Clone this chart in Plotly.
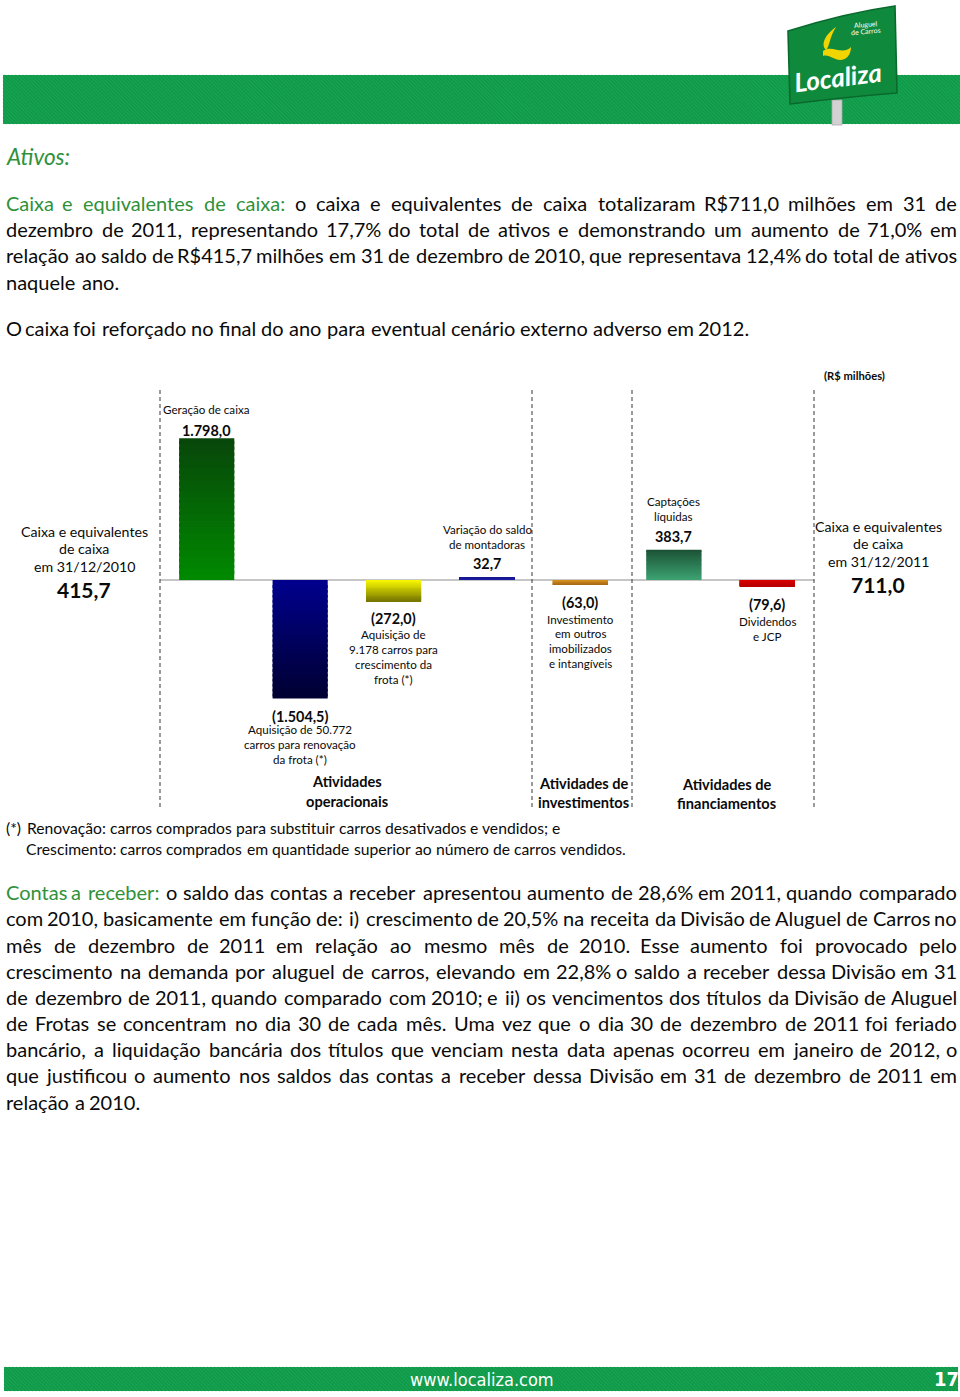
import unicodedata
import plotly.graph_objects as go

W_PX, H_PX = 960, 1397

# ---------------- data ----------------
CATEGORIES = ["Geração de caixa", "Renovação da frota", "Crescimento da frota",
              "Variação do saldo de montadoras", "Investimento em outros imobilizados e intangíveis",
              "Captações líquidas", "Dividendos e JCP"]
VALUES = [1798.0, -1504.5, -272.0, 32.7, -63.0, 383.7, -79.6]
VALUE_LABELS = ["1.798,0", "(1.504,5)", "(272,0)", "32,7", "(63,0)", "383,7", "(79,6)"]
BAR_DESCRIPTIONS = [
    ["Geração de caixa"],
    ["Aquisição de 50.772", "carros para renovação", "da frota (*)"],
    ["Aquisição de", "9.178 carros para", "crescimento da", "frota (*)"],
    ["Variação do saldo", "de montadoras"],
    ["Investimento", "em outros", "imobilizados", "e intangíveis"],
    ["Captações", "líquidas"],
    ["Dividendos", "e JCP"],
]
OPENING_LABEL = ["Caixa e equivalentes", "de caixa", "em 31/12/2010"]
OPENING_VALUE = "415,7"
CLOSING_LABEL = ["Caixa e equivalentes", "de caixa", "em 31/12/2011"]
CLOSING_VALUE = "711,0"
SECTION_LABELS = [["Atividades", "operacionais"], ["Atividades de", "investimentos"],
                  ["Atividades de", "financiamentos"]]
UNIT_LABEL = "(R$ milhões)"

HEADING = "Ativos:"
P1_LINES = [
    "Caixa e equivalentes de caixa: o caixa e equivalentes de caixa totalizaram R$711,0 milhões em 31 de",
    "dezembro de 2011, representando 17,7% do total de ativos e demonstrando um aumento de 71,0% em",
    "relação ao saldo de R$415,7 milhões em 31 de dezembro de 2010, que representava 12,4% do total de ativos",
    "naquele ano.",
]
P2_LINE = "O caixa foi reforçado no final do ano para eventual cenário externo adverso em 2012."
FOOTNOTE_LINES = [
    "(*) Renovação: carros comprados para substituir carros desativados e vendidos; e",
    "Crescimento: carros comprados em quantidade superior ao número de carros vendidos.",
]
P3_LINES = [
    "Contas a receber: o saldo das contas a receber apresentou aumento de 28,6% em 2011, quando comparado",
    "com 2010, basicamente em função de: i) crescimento de 20,5% na receita da Divisão de Aluguel de Carros no",
    "mês de dezembro de 2011 em relação ao mesmo mês de 2010. Esse aumento foi provocado pelo",
    "crescimento na demanda por aluguel de carros, elevando em 22,8% o saldo a receber dessa Divisão em 31",
    "de dezembro de 2011, quando comparado com 2010; e ii) os vencimentos dos títulos da Divisão de Aluguel",
    "de Frotas se concentram no dia 30 de cada mês. Uma vez que o dia 30 de dezembro de 2011 foi feriado",
    "bancário, a liquidação bancária dos títulos que venciam nesta data apenas ocorreu em janeiro de 2012, o",
    "que justificou o aumento nos saldos das contas a receber dessa Divisão em 31 de dezembro de 2011 em",
    "relação a 2010.",
]
FOOTER_URL = "www.localiza.com"
PAGE_NUMBER = "17"
LOGO_TEXT = "Localiza"
LOGO_SUB = ["Aluguel", "de Carros"]

# ---------------- styles ----------------
FONT = "Lato, 'Open Sans', sans-serif"
NARROW = "'Liberation Sans Narrow', 'DejaVu Sans Condensed', 'Arial Narrow', sans-serif"
GREEN_TXT = "#30913a"
BLACK = "#0a0a0a"
BAR_COLORS = [("#008a00", "#08460a"), ("#00008e", "#000030"), ("#ffff00", "#767600"),
              ("#1e1eb4", "#16168e"), ("#e0961e", "#a86a14"), ("#3da372", "#1b5236"),
              ("#e00000", "#b80000")]
BAND_GREEN = "#17a552"
STRIPE_GREEN = "#0b8c42"

# Calibri-like advance widths (per 1000 em) used only to space words
CAL = {' ': 226, 'a': 479, 'b': 525, 'c': 423, 'd': 525, 'e': 498, 'f': 305, 'g': 471, 'h': 525,
       'i': 229, 'j': 239, 'k': 455, 'l': 229, 'm': 799, 'n': 525, 'o': 527, 'p': 525, 'q': 525,
       'r': 349, 's': 391, 't': 335, 'u': 525, 'v': 452, 'w': 715, 'x': 433, 'y': 453, 'z': 395,
       'A': 579, 'B': 544, 'C': 533, 'D': 615, 'E': 488, 'F': 459, 'G': 631, 'H': 623, 'I': 252,
       'J': 319, 'K': 520, 'L': 420, 'M': 855, 'N': 646, 'O': 662, 'P': 517, 'Q': 673, 'R': 543,
       'S': 459, 'T': 487, 'U': 642, 'V': 567, 'W': 890, 'X': 519, 'Y': 487, 'Z': 468,
       '.': 252, ',': 250, ':': 268, ';': 268, '%': 715, '$': 507, '(': 303, ')': 303, '*': 400,
       '/': 386, '-': 306}
for d in "0123456789":
    CAL[d] = 507


def cw(ch):
    base = unicodedata.normalize('NFD', ch)[0]
    return CAL.get(base, 500)


def word_w(word, size):
    return sum(cw(c) for c in word) / 1000.0 * size


def hex2rgb(h):
    h = h.lstrip('#')
    return tuple(int(h[i:i + 2], 16) for i in (0, 2, 4))


def lerp(c0, c1, t):
    a, b = hex2rgb(c0), hex2rgb(c1)
    return 'rgb(%d,%d,%d)' % tuple(round(a[i] + (b[i] - a[i]) * t) for i in range(3))


fig = go.Figure()

# ---------------- bars (vertical gradient built from stacked slices) ----------------
N = 24
xs = list(range(len(VALUES)))
for k in range(N):
    t = (k + 0.5) / N
    cols = [lerp(c0, c1, t) for c0, c1 in BAR_COLORS]
    h = 1.0 if k == N - 1 else 1.6
    fig.add_trace(go.Bar(
        x=xs, y=[v * h / N for v in VALUES], base=[v * k / N for v in VALUES],
        width=0.59, marker=dict(color=cols, line=dict(width=0)),
        showlegend=False, hoverinfo='skip', name="Fluxo de caixa"))

fig.add_trace(go.Scatter(x=[None], y=[None], xaxis='x2', yaxis='y2', mode='markers',
                         showlegend=False, hoverinfo='skip'))

ann = []


def T(x, y, text, size, color=BLACK, bold=False, italic=False, family=FONT,
      xanchor='center', xref='x2', angle=0):
    t = text
    if bold:
        t = '<b>' + t + '</b>'
    if italic:
        t = '<i>' + t + '</i>'
    ann.append(dict(x=x, y=y, xref=xref, yref='y2', text=t, showarrow=False,
                    xanchor=xanchor, yanchor='middle', borderpad=0, borderwidth=0,
                    font=dict(size=size, color=color, family=family), textangle=angle))


def place_line(text, y, size_cal, size_font, x0, x1=None, green_words=0):
    words = text.split()
    ws = [word_w(w, size_cal) for w in words]
    n = len(words)
    if x1 is not None and n > 1:
        gap = (x1 - x0 - sum(ws)) / (n - 1)
    else:
        gap = CAL[' '] / 1000.0 * size_cal
    x = x0
    for i, (w, wd) in enumerate(zip(words, ws)):
        col = GREEN_TXT if i < green_words else BLACK
        if i == 0:
            T(x0, y, w, size_font, col, xanchor='left')
        elif x1 is not None and i == n - 1:
            T(x1, y, w, size_font, col, xanchor='right')
        else:
            T(x + wd / 2, y, w, size_font, col)
        x += wd + gap


BODY_CAL, BODY_PX = 21.4, 20
T(6, 156, HEADING, 22.5, GREEN_TXT, italic=True, xanchor='left')
p1_y = [203, 229, 255, 282]
for i, line in enumerate(P1_LINES):
    just = i < len(P1_LINES) - 1
    place_line(line, p1_y[i], BODY_CAL, BODY_PX, 6, 957 if just else None,
               green_words=5 if i == 0 else 0)
place_line(P2_LINE, 328, BODY_CAL, BODY_PX, 6)

place_line(FOOTNOTE_LINES[0], 828, 16.8, 15.7, 6)
place_line(FOOTNOTE_LINES[1], 849, 16.8, 15.7, 26)

p3_y = [892, 918, 945, 971, 997, 1023, 1049, 1075, 1102]
for i, line in enumerate(P3_LINES):
    just = i < len(P3_LINES) - 1
    place_line(line, p3_y[i], BODY_CAL, BODY_PX, 6, 957 if just else None,
               green_words=3 if i == 0 else 0)

# ---------------- chart texts ----------------
SMALL, VAL = 11.6, 14.4
T(854, 375, UNIT_LABEL, 11.2, bold=True)
val_y = [430, 716, 618, 563, 602, 536, 604]
desc_y = [[409], [729, 744, 759], [634, 649, 664, 679], [529, 544], [619, 633, 648, 663],
          [501, 516], [621, 636]]
for i in range(len(VALUES)):
    T(i, val_y[i], VALUE_LABELS[i], VAL, bold=True, xref='x')
    for line, yy in zip(BAR_DESCRIPTIONS[i], desc_y[i]):
        T(i, yy, line, SMALL, xref='x')
for line, yy in zip(OPENING_LABEL, [531, 548, 566]):
    T(84, yy, line, 14.2)
T(84, 589, OPENING_VALUE, 21, bold=True)
for line, yy in zip(CLOSING_LABEL, [526, 543, 561]):
    T(878, yy, line, 14.2)
T(878, 584, CLOSING_VALUE, 21, bold=True)
for (l1, l2), cx, (y1, y2) in zip(SECTION_LABELS, [347, 583, 726],
                                  [(781, 801), (783, 802), (784, 803)]):
    T(cx, y1, l1, 14.6, bold=True)
    T(cx, y2, l2, 14.6, bold=True)

# ---------------- shapes ----------------
shapes = []


def stripes(x0, x1, y0, y1, step):
    h = y1 - y0
    segs = []
    s = x0 - h
    while s < x1:
        ax, ay, bx, by = s, y0, s + h, y1
        if ax < x0:
            ay = y0 + (x0 - ax)
            ax = x0
        if bx > x1:
            by = y1 - (bx - x1)
            bx = x1
        if bx > ax:
            segs.append("M%.1f,%.1fL%.1f,%.1f" % (ax, ay, bx, by))
        s += step
    return ''.join(segs)


for (bx0, bx1, by0, by1) in [(3, 960, 75, 124), (4, 958, 1367, 1391)]:
    shapes.append(dict(type='rect', xref='x2', yref='y2', x0=bx0, x1=bx1, y0=by0, y1=by1,
                       fillcolor=BAND_GREEN, line=dict(width=0)))
    shapes.append(dict(type='path', xref='x2', yref='y2', path=stripes(bx0, bx1, by0, by1, 3.6),
                       line=dict(color=STRIPE_GREEN, width=1.1), opacity=0.55))

for sx in [160, 532, 632, 814]:
    shapes.append(dict(type='line', xref='x2', yref='y2', x0=sx, x1=sx, y0=390, y1=808,
                       line=dict(color='#4a4a4a', width=1.1, dash='4px,3px')))

# logo: pole, sign panel, yellow swoosh
shapes.append(dict(type='rect', xref='x2', yref='y2', x0=832, x1=842, y0=100, y1=125,
                   fillcolor='#d2d2d2', line=dict(color='#a8a8a8', width=0.8)))
shapes.append(dict(type='path', xref='x2', yref='y2',
                   path="M788,31 Q845,13 895,6 L897,93 Q845,97 790,104 Z",
                   fillcolor='#0f8a3c', line=dict(color='#0a6a2d', width=1.6)))
shapes.append(dict(type='path', xref='x2', yref='y2',
                   path="M836,27 C826,34 820,44 826,50 C830,46 829,38 836,27 Z",
                   fillcolor='#f2d400', line=dict(width=0)))
shapes.append(dict(type='path', xref='x2', yref='y2',
                   path="M823,51 C832,44 842,56 851,47 C851,54 847,60 840,60 C834,60 829,54 823,56 Z",
                   fillcolor='#f2d400', line=dict(width=0)))
T(838, 77, LOGO_TEXT, 26, '#ffffff', bold=True, italic=True, angle=-7)
T(866, 24, LOGO_SUB[0], 7, '#ffffff', angle=-5)
T(866, 31, LOGO_SUB[1], 7, '#ffffff', angle=-5)

# footer texts
T(482, 1379, FOOTER_URL, 18, '#ffffff', family=NARROW)
T(946, 1379, PAGE_NUMBER, 20, '#ffffff', bold=True, family=NARROW)

fig.update_layout(
    width=W_PX, height=H_PX, margin=dict(l=0, r=0, t=0, b=0, pad=0),
    paper_bgcolor='white', plot_bgcolor='rgba(0,0,0,0)',
    barmode='overlay', showlegend=False,
    xaxis=dict(domain=[160 / 960, 814 / 960], range=[-0.5, 6.5], visible=False, fixedrange=True),
    yaxis=dict(domain=[1 - 808 / 1397, 1 - 388 / 1397], range=[-2893.4, 2436.5],
               showgrid=False, showticklabels=False, ticks='', showline=False,
               zeroline=True, zerolinecolor='#c6c6c6', zerolinewidth=1.5, fixedrange=True),
    xaxis2=dict(domain=[0, 1], range=[0, W_PX], visible=False, anchor='y2', fixedrange=True),
    yaxis2=dict(domain=[0, 1], range=[H_PX, 0], visible=False, anchor='x2', fixedrange=True),
    annotations=ann, shapes=shapes,
)

fig.write_html("out.html")
